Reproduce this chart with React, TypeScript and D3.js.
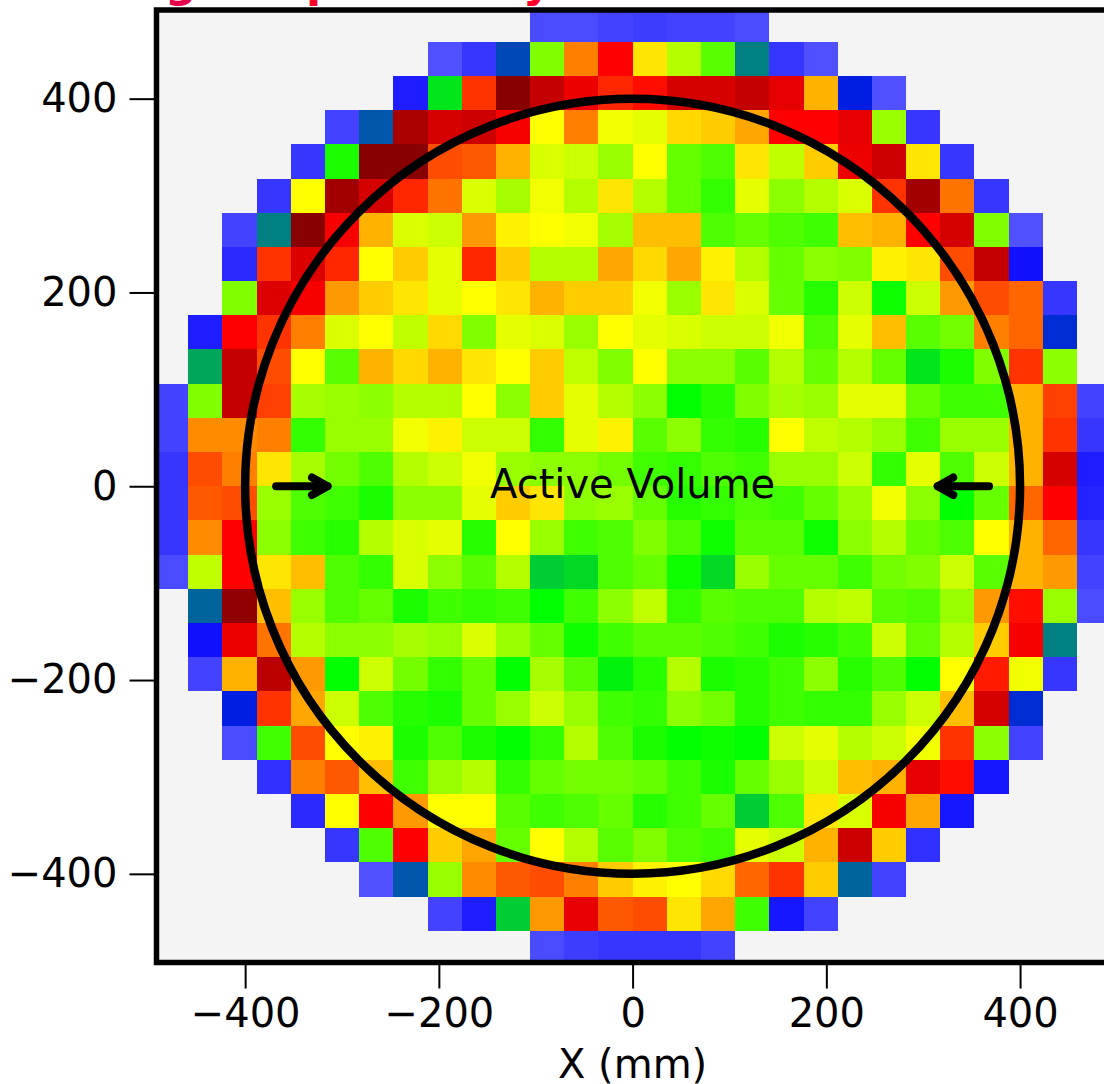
import { useEffect, useRef } from "react";
import * as d3 from "d3";

// first occupied column of each row, top row first
const rowStart = [11, 8, 7, 5, 4, 3, 2, 2, 2, 1, 1, 0, 0, 0, 0, 0, 0, 1, 1, 1, 2, 2, 3, 4, 5, 6, 8, 11];

// cell values, on the colour scale below
const rowValues = [
  [1, 1, 2, 3, 2, 2, 1],
  [0, 4, 16, 40, 60, 70, 52, 44, 37, 20, 4, 0],
  [8, 28, 66, 84, 77, 72, 67, 69, 75, 75, 77, 73, 56, 13, 0],
  [2, 17, 80, 75, 76, 71, 50, 60, 49, 48, 53, 54, 57, 70, 70, 73, 42, 4],
  [4, 32, 84, 84, 64, 63, 56, 47, 46, 42, 50, 38, 36, 52, 45, 54, 72, 76, 52, 4],
  [4, 50, 81, 75, 67, 61, 47, 43, 49, 44, 52, 44, 38, 34, 48, 41, 44, 47, 66, 81, 61, 4],
  [2, 20, 84, 71, 56, 47, 46, 58, 51, 50, 49, 43, 55, 55, 36, 38, 36, 35, 55, 56, 70, 75, 40, 0],
  [6, 66, 74, 67, 50, 54, 48, 67, 54, 44, 44, 57, 53, 57, 51, 44, 38, 41, 40, 51, 52, 64, 77, 10],
  [40, 74, 71, 58, 54, 52, 48, 50, 52, 56, 54, 54, 49, 42, 52, 47, 38, 33, 46, 31, 46, 58, 64, 62, 4],
  [8, 70, 66, 60, 47, 50, 45, 53, 40, 48, 47, 42, 50, 48, 47, 46, 46, 49, 36, 48, 55, 37, 39, 60, 62, 14],
  [23, 77, 64, 50, 37, 56, 53, 56, 52, 50, 54, 45, 40, 50, 41, 41, 37, 44, 38, 44, 38, 28, 32, 40, 66, 41],
  [2, 40, 77, 65, 43, 42, 41, 44, 44, 50, 41, 54, 48, 44, 41, 30, 33, 40, 43, 42, 48, 48, 38, 35, 35, 56, 65, 2],
  [2, 59, 59, 60, 34, 42, 42, 49, 51, 46, 46, 34, 48, 51, 37, 41, 34, 33, 50, 45, 44, 42, 35, 42, 42, 56, 66, 4],
  [4, 64, 60, 52, 43, 39, 36, 44, 46, 49, 42, 41, 41, 39, 35, 34, 36, 35, 42, 42, 46, 34, 48, 36, 46, 56, 75, 8],
  [4, 63, 64, 42, 36, 35, 32, 41, 41, 48, 54, 52, 41, 42, 38, 33, 34, 36, 35, 38, 42, 49, 41, 30, 38, 62, 70, 7],
  [4, 59, 70, 41, 35, 33, 44, 47, 48, 33, 50, 42, 35, 36, 40, 36, 31, 37, 37, 31, 41, 44, 38, 36, 50, 56, 62, 4],
  [1, 45, 70, 52, 55, 36, 34, 47, 41, 37, 44, 26, 27, 36, 38, 31, 27, 42, 38, 38, 35, 39, 40, 46, 37, 56, 58, 2],
  [18, 83, 55, 42, 36, 38, 32, 35, 34, 35, 30, 35, 41, 45, 34, 37, 36, 36, 44, 45, 37, 36, 42, 58, 69, 42, 1],
  [10, 72, 61, 44, 41, 41, 43, 42, 47, 42, 38, 31, 35, 37, 37, 36, 35, 32, 33, 35, 46, 38, 44, 54, 71, 20],
  [2, 56, 78, 58, 30, 46, 39, 34, 38, 30, 43, 37, 29, 33, 44, 32, 33, 35, 41, 33, 36, 30, 50, 68, 49, 4],
  [13, 66, 57, 46, 36, 33, 32, 38, 42, 46, 42, 35, 34, 41, 39, 33, 35, 34, 34, 42, 46, 55, 75, 14],
  [1, 35, 64, 50, 51, 32, 36, 32, 30, 34, 44, 36, 32, 30, 31, 30, 46, 48, 44, 46, 49, 66, 41, 2],
  [5, 60, 63, 55, 35, 42, 44, 34, 38, 39, 39, 38, 35, 32, 38, 42, 46, 55, 56, 73, 69, 9],
  [6, 50, 70, 58, 50, 50, 37, 35, 36, 38, 33, 35, 38, 26, 36, 52, 47, 71, 57, 9],
  [4, 36, 70, 54, 57, 38, 50, 44, 37, 40, 36, 35, 48, 46, 56, 76, 54, 5],
  [0, 17, 42, 59, 63, 64, 60, 54, 51, 50, 53, 62, 66, 54, 18, 2],
  [2, 8, 26, 58, 73, 63, 64, 52, 57, 35, 9, 2],
  [1, 3, 4, 4, 4, 2],
];

const colorStops = [0, 10, 12, 20, 30, 50, 70, 85];
const colorRange = ["#5050ff", "#1010ff", "#0010f0", "#008080", "#00ff00", "#ffff00", "#ff0000", "#800000"];

const xTicks = [-400, -200, 0, 200, 400];
const yTicks = [-400, -200, 0, 200, 400];

// only the descenders of the title are left in the crop
const titleLetters = ["g", "p", "y"];
const titleX = [165, 306, 523];
const titleColors = ["#e6004c", "#ff0028", "#ff0028"];

const binEdge = -494;
const binWidth = 988 / 28;
const activeRadius = 400;

export default function App() {
  const svgRef = useRef<SVGSVGElement>(null);

  useEffect(() => {
    const svg = d3.select(svgRef.current);
    svg.html(null);

    const x = d3.scaleLinear().domain([-491.5, 491.5]).range([156.5, 1108.7]);
    const y = d3.scaleLinear().domain([-491.5, 491.5]).range([962.5, 10]);
    const color = d3.scaleLinear<string>().domain(colorStops).range(colorRange);

    svg.append("defs")
      .append("clipPath")
      .attr("id", "plot-clip")
      .append("rect")
      .attr("x", x(-491.5))
      .attr("y", y(491.5))
      .attr("width", x(491.5) - x(-491.5))
      .attr("height", y(-491.5) - y(491.5));

    svg.append("rect")
      .attr("x", x(-491.5))
      .attr("y", y(491.5))
      .attr("width", x(491.5) - x(-491.5))
      .attr("height", y(-491.5) - y(491.5))
      .attr("fill", "#f4f4f4");

    const cells = svg.append("g").attr("clip-path", "url(#plot-clip)").attr("shape-rendering", "crispEdges");
    rowValues.forEach((values, row) => {
      const top = -binEdge - row * binWidth;
      values.forEach((value, i) => {
        const left = binEdge + (rowStart[row] + i) * binWidth;
        cells.append("rect")
          .attr("x", x(left))
          .attr("y", y(top))
          .attr("width", x(left + binWidth) - x(left))
          .attr("height", y(top - binWidth) - y(top))
          .attr("fill", color(value));
      });
    });

    // active volume circle
    svg.append("circle")
      .attr("cx", x(0))
      .attr("cy", y(0))
      .attr("r", x(activeRadius) - x(0))
      .attr("fill", "none")
      .attr("stroke", "#000")
      .attr("stroke-width", 8.5);

    const arrow = d3.line();
    [[-368, -315], [368, 315]].forEach(([from, to]) => {
      const dir = Math.sign(to - from);
      const g = svg.append("g")
        .attr("fill", "none")
        .attr("stroke", "#000")
        .attr("stroke-width", 8)
        .attr("stroke-linecap", "round")
        .attr("stroke-linejoin", "round");
      g.append("path").attr("d", arrow([[x(from), y(0)], [x(to), y(0)]]));
      g.append("path").attr("d", arrow([[x(to - dir * 16), y(9)], [x(to), y(0)], [x(to - dir * 16), y(-9)]]));
    });

    svg.append("text")
      .attr("x", x(0))
      .attr("y", y(0) + 12)
      .attr("text-anchor", "middle")
      .attr("font-size", 40)
      .text("Active Volume");

    const xAxis = svg.append("g")
      .attr("transform", `translate(0,${y(-491.5)})`)
      .call(d3.axisBottom(x).tickValues(xTicks).tickSize(26).tickPadding(10));
    const yAxis = svg.append("g")
      .attr("transform", `translate(${x(-491.5)},0)`)
      .call(d3.axisLeft(y).tickValues(yTicks).tickSize(27).tickPadding(12));
    [xAxis, yAxis].forEach((axis) => {
      axis.select(".domain").remove();
      axis.attr("font-family", "'DejaVu Sans'").attr("font-size", 40);
      axis.selectAll("line").attr("stroke", "#000").attr("stroke-width", 2);
      axis.selectAll("text").attr("fill", "#000");
    });

    // axes frame
    svg.append("rect")
      .attr("x", x(-491.5))
      .attr("y", y(491.5))
      .attr("width", x(491.5) - x(-491.5))
      .attr("height", y(-491.5) - y(491.5))
      .attr("fill", "none")
      .attr("stroke", "#000")
      .attr("stroke-width", 5.5);

    svg.append("text")
      .attr("x", x(0))
      .attr("y", 1078)
      .attr("text-anchor", "middle")
      .attr("font-size", 40)
      .text("X (mm)");

    titleLetters.forEach((letter, i) => {
      svg.append("text")
        .attr("x", titleX[i])
        .attr("y", -3)
        .attr("font-size", 44)
        .attr("font-weight", "bold")
        .attr("fill", titleColors[i])
        .text(letter);
    });
  }, []);

  return (
    <svg
      ref={svgRef}
      width={1104}
      height={1084}
      style={{ position: "absolute", left: 0, top: 0, fontFamily: "'DejaVu Sans'", background: "#fff" }}
    ></svg>
  );
}
